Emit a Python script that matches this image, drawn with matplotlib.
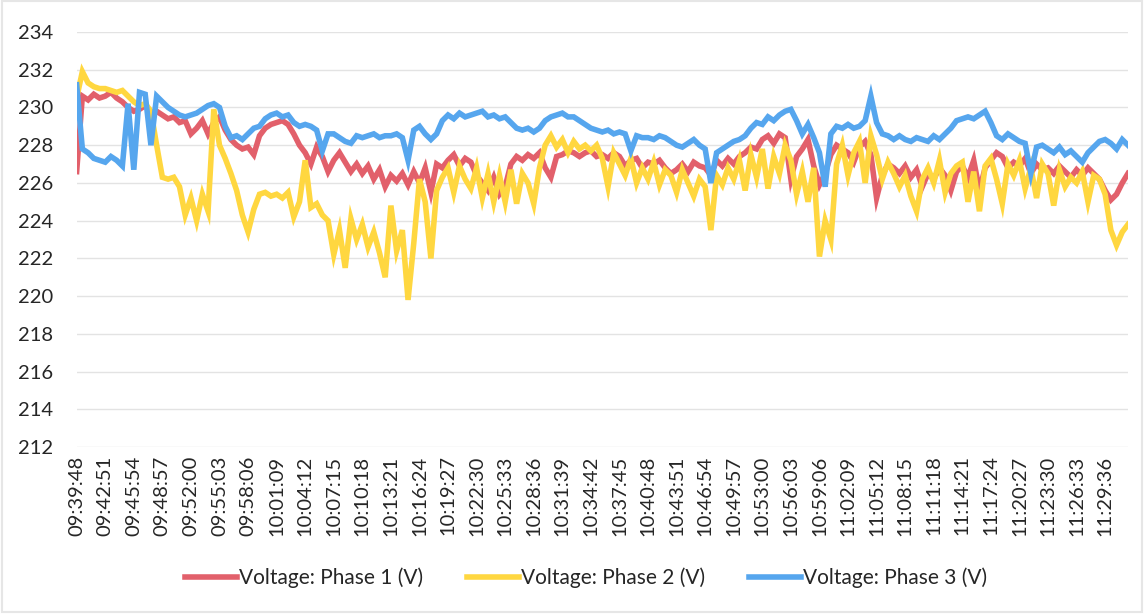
import matplotlib.pyplot as plt
import numpy as np

plt.rcParams['font.family'] = ['Lato', 'DejaVu Sans']

# time labels every 5 samples
tick_labels = ["09:39:48", "09:42:51", "09:45:54", "09:48:57", "09:52:00", "09:55:03",
               "09:58:06", "10:01:09", "10:04:12", "10:07:15", "10:10:18", "10:13:21",
               "10:16:24", "10:19:27", "10:22:30", "10:25:33", "10:28:36", "10:31:39",
               "10:34:42", "10:37:45", "10:40:48", "10:43:51", "10:46:54", "10:49:57",
               "10:53:00", "10:56:03", "10:59:06", "11:02:09", "11:05:12", "11:08:15",
               "11:11:18", "11:14:21", "11:17:24", "11:20:27", "11:23:30", "11:26:33",
               "11:29:36"]

phase1 = [
    226.6, 230.6, 230.4, 230.7, 230.5, 230.6, 230.8, 230.5, 230.3, 230.0,
    229.8, 229.9, 230.1, 229.7, 229.8, 229.6, 229.4, 229.5, 229.2, 229.3,
    228.6, 228.9, 229.3, 228.6, 229.2, 229.5, 228.8, 228.3, 228.0, 227.8,
    227.9, 227.5, 228.5, 228.9, 229.1, 229.2, 229.3, 229.1, 228.6, 228.0,
    227.6, 227.0, 227.9, 227.4, 226.6, 227.2, 227.6, 227.1, 226.6, 227.0,
    226.5, 226.9, 226.2, 226.7, 225.8, 226.4, 226.1, 226.5, 225.9, 226.6,
    226.0, 226.8, 225.5, 227.0, 226.8, 227.2, 227.5, 226.9, 227.3, 227.1,
    226.4, 226.0, 225.6, 226.3, 225.4, 225.8, 227.0, 227.4, 227.2, 227.5,
    227.3, 227.6, 226.8, 226.3, 227.4, 227.5, 227.7, 227.6, 227.4, 227.6,
    227.7, 227.4, 227.5, 227.3, 227.6, 227.4, 226.9, 227.2, 227.3, 226.8,
    227.1, 227.0, 227.2, 226.8, 226.5, 226.7, 227.0, 226.6, 227.1, 226.9,
    226.8, 226.4, 227.2, 226.9, 227.3, 227.0, 227.4, 227.6, 227.9, 227.8,
    228.3, 228.5, 228.1, 228.6, 228.4, 226.2, 227.4, 227.8, 228.3, 226.9,
    225.9, 226.5, 227.5, 228.0, 227.8, 227.6, 227.1, 227.9, 228.2, 227.5,
    225.2, 226.4, 227.0, 226.8, 226.5, 226.9, 226.3, 226.7, 225.8, 226.5,
    226.2, 226.8, 226.4, 225.6, 226.6, 226.9, 226.3, 227.2, 225.6, 226.8,
    227.2, 227.6, 227.4, 226.8, 227.1, 226.9, 227.3, 226.5, 227.0, 226.7,
    226.8, 226.5, 226.9, 226.6, 226.3, 226.7, 226.4, 226.8, 226.5, 226.2,
    225.6, 225.1, 225.4, 226.0, 226.5]

phase2 = [
    230.5, 231.9, 231.3, 231.1, 231.0, 231.0, 230.9, 230.8, 230.9, 230.6,
    230.3, 230.1, 230.2, 229.8, 228.0, 226.3, 226.2, 226.3, 225.8, 224.3,
    225.2, 224.0, 225.4, 224.5, 229.9, 228.0, 227.3, 226.5, 225.6, 224.3,
    223.4, 224.6, 225.4, 225.5, 225.3, 225.4, 225.2, 225.5, 224.2, 225.0,
    227.2, 224.7, 224.9, 224.3, 224.0, 222.2, 223.5, 221.5, 224.1, 223.0,
    223.8, 222.6, 223.4, 222.3, 221.0, 224.8, 222.4, 223.5, 219.8, 222.8,
    226.2, 225.0, 222.0, 225.6, 226.3, 226.8, 225.5, 226.9, 226.2, 225.7,
    226.8, 225.2, 226.5, 225.0, 226.4, 225.0, 226.7, 224.9, 226.5, 226.0,
    224.9, 226.8, 228.0, 228.5, 227.9, 228.3, 227.6, 228.2, 227.8, 228.0,
    227.7, 228.0, 227.3, 225.8, 227.6, 227.0, 226.4, 227.3, 226.0, 226.8,
    226.2, 227.1, 225.9, 226.7, 226.4, 225.5, 226.7, 226.0, 225.3, 226.2,
    225.8, 223.5, 226.4, 225.9, 226.8, 226.2, 227.2, 225.6, 227.5, 226.3,
    227.8, 225.7, 227.4, 226.5, 228.0, 227.2, 225.4, 226.6, 225.0, 226.8,
    222.1, 224.0, 223.0, 227.0, 228.0, 226.4, 227.6, 228.2, 226.0, 228.5,
    227.5, 226.2, 227.1, 226.5, 225.8, 226.4, 225.3, 224.5, 226.2, 226.8,
    226.0, 227.2, 225.5, 226.5, 226.9, 227.1, 225.0, 226.6, 224.5, 226.9,
    227.3, 226.2, 224.9, 227.0, 226.4, 227.2, 225.7, 226.8, 225.2, 227.0,
    226.5, 224.8, 226.7, 225.8, 226.3, 226.0, 226.6, 225.0, 226.4, 226.2,
    225.4, 223.5, 222.7, 223.4, 223.8]

phase3 = [
    231.2, 227.8, 227.6, 227.3, 227.2, 227.1, 227.4, 227.2, 226.9, 230.2,
    226.7, 230.8, 230.7, 228.0, 230.6, 230.3, 230.0, 229.8, 229.6, 229.5,
    229.6, 229.7, 229.9, 230.1, 230.2, 230.0, 229.0, 228.4, 228.5, 228.3,
    228.6, 228.9, 229.0, 229.4, 229.6, 229.7, 229.5, 229.6, 229.2, 229.0,
    229.1, 229.0, 228.8, 227.7, 228.6, 228.6, 228.4, 228.2, 228.1, 228.5,
    228.4, 228.5, 228.6, 228.4, 228.5, 228.5, 228.6, 228.4, 227.2, 228.8,
    229.0, 228.6, 228.3, 228.6, 229.3, 229.6, 229.4, 229.7, 229.5, 229.6,
    229.7, 229.8, 229.5, 229.6, 229.4, 229.5, 229.2, 228.9, 228.8, 228.9,
    228.7, 228.9, 229.3, 229.5, 229.6, 229.7, 229.5, 229.5, 229.3, 229.1,
    228.9, 228.8, 228.7, 228.8, 228.6, 228.7, 228.6, 227.7, 228.5, 228.4,
    228.4, 228.3, 228.5, 228.4, 228.2, 228.0, 227.9, 228.1, 228.3, 228.0,
    227.8, 226.0, 227.6, 227.8, 228.0, 228.2, 228.3, 228.5, 228.9, 229.2,
    229.1, 229.5, 229.3, 229.6, 229.8, 229.9, 229.3, 228.6, 229.1, 228.4,
    227.6, 225.8, 228.6, 229.0, 228.9, 229.1, 228.9, 229.0, 229.3, 230.6,
    229.2, 228.6, 228.5, 228.3, 228.5, 228.3, 228.2, 228.4, 228.3, 228.2,
    228.5, 228.3, 228.6, 228.9, 229.3, 229.4, 229.5, 229.4, 229.6, 229.8,
    229.2, 228.5, 228.3, 228.6, 228.4, 228.2, 228.1, 226.5, 227.9, 228.0,
    227.8, 227.6, 227.9, 227.5, 227.7, 227.4, 227.1, 227.6, 227.9, 228.2,
    228.3, 228.1, 227.8, 228.3, 228.0]

series_names = ["Voltage: Phase 1 (V)", "Voltage: Phase 2 (V)", "Voltage: Phase 3 (V)"]
colors = ["#E2606B", "#FFD740", "#56A6EE"]

x = np.arange(len(phase1))

fig = plt.figure(figsize=(11.44, 6.15), dpi=100)
ax = fig.add_axes([0.067, 0.273, 0.919, 0.675])

for ys, name, c in zip([phase1, phase2, phase3], series_names, colors):
    ax.plot(x, ys, color=c, linewidth=4, label=name, solid_joinstyle="miter")

ax.set_xlim(0, len(x) - 1)
ax.set_ylim(212, 234)
ax.set_yticks(np.arange(212, 235, 2))
ax.set_xticks(np.arange(0, len(tick_labels) * 5, 5))
ax.set_xticklabels(tick_labels, rotation=90)
ax.tick_params(axis="both", length=0, colors="#262626")
ax.tick_params(axis="x", pad=6, labelsize=14.5)
ax.tick_params(axis="y", pad=17, labelsize=14.5)
ax.grid(axis="y", color="#E3E3E3", linewidth=1)
ax.set_axisbelow(True)
for s in ax.spines.values():
    s.set_visible(False)

fig.legend(loc="center", bbox_to_anchor=(0.512, 0.06), ncol=3, frameon=False,
           fontsize=15, handlelength=2.5, columnspacing=2.1, handletextpad=0.1,
           labelcolor="#262626")

fig.patches.append(plt.Rectangle((0.002, 0.005), 0.996, 0.993, transform=fig.transFigure,
                                 fill=False, edgecolor="#E6E6E6", linewidth=1.5))

fig.savefig("out.png", dpi=100)
